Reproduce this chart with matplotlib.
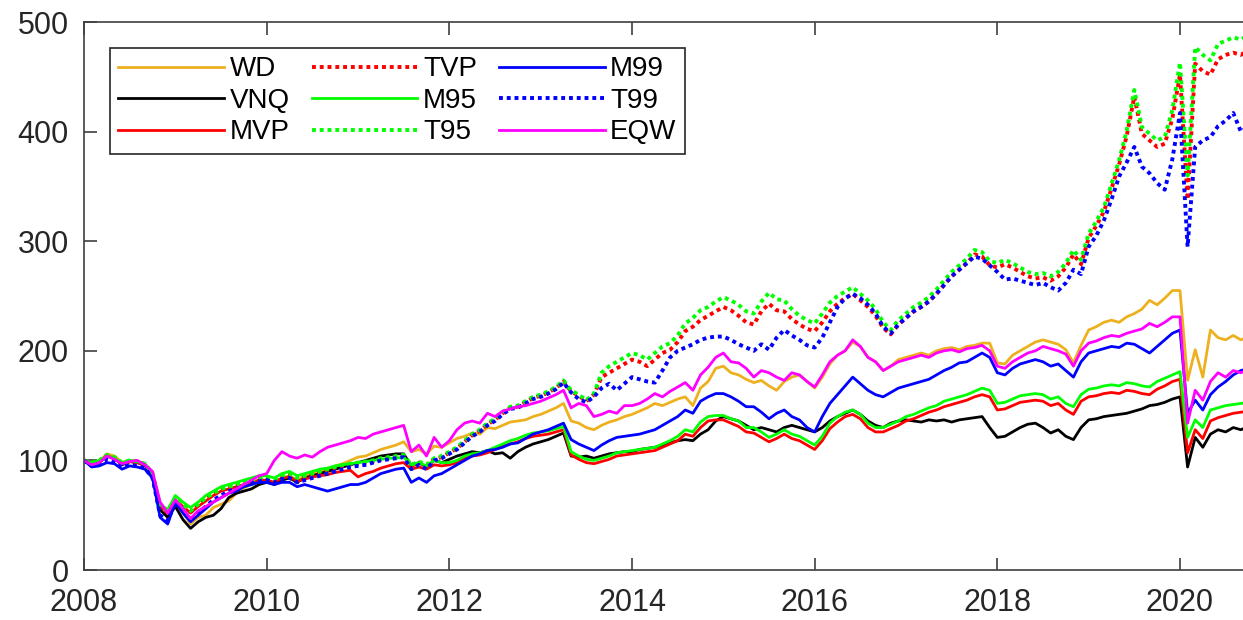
import matplotlib
matplotlib.use('Agg')
import matplotlib.pyplot as plt
import numpy as np

plt.rcParams['font.family'] = ['Liberation Sans', 'DejaVu Sans']

# monthly index values, Jan 2008 .. Oct 2020
labels = ['WD', 'VNQ', 'MVP', 'TVP', 'M95', 'T95', 'M99', 'T99', 'EQW']

WD = [100, 97, 99, 106, 104, 98, 100, 99, 97, 88, 58, 50,
      60, 52, 42, 48, 50, 57, 60, 63, 70, 75, 78, 82,
      80, 80, 84, 86, 82, 86, 88, 90, 92, 95, 97, 100,
      103, 104, 107, 110, 112, 114, 117, 108, 110, 106, 113, 112,
      116, 120, 122, 125, 124, 130, 129, 132, 135, 136, 137, 140,
      142, 145, 148, 152, 136, 134, 130, 128, 132, 135, 137, 140,
      142, 145, 148, 152, 150, 153, 156, 158, 150, 166, 172, 184,
      186, 180, 178, 174, 171, 173, 168, 164, 172, 176, 178, 172,
      166, 176, 188, 196, 200, 208, 204, 194, 190, 182, 186, 192,
      194, 196, 198, 196, 200, 202, 203, 201, 204, 205, 207, 207,
      189, 188, 196, 200, 204, 208, 210, 208, 206, 201, 189, 205,
      219, 222, 226, 228, 226, 231, 234, 238, 246, 242, 248, 255,
      255, 173, 201, 176, 219, 212, 210, 214, 210, 213]

VNQ = [100, 96, 98, 104, 102, 96, 99, 98, 96, 85, 55, 48,
       58, 46, 38, 44, 48, 50, 56, 66, 70, 72, 74, 78,
       80, 78, 82, 84, 80, 84, 86, 88, 90, 92, 94, 96,
       98, 100, 102, 104, 105, 106, 106, 95, 98, 94, 100, 98,
       101, 104, 106, 108, 107, 109, 106, 107, 102, 108, 112, 115,
       117, 119, 122, 125, 104, 103, 104, 102, 104, 106, 107, 108,
       108, 110, 111, 112, 114, 116, 118, 119, 118, 124, 128, 136,
       140, 138, 136, 132, 128, 130, 128, 126, 130, 132, 130, 128,
       126, 130, 136, 140, 143, 146, 142, 136, 132, 130, 134, 136,
       137, 136, 135, 137, 136, 137, 135, 137, 138, 139, 140, 130,
       121, 122, 126, 130, 133, 134, 130, 125, 128, 122, 119, 130,
       137, 138, 140, 141, 142, 143, 145, 147, 150, 151, 153, 156,
       158, 94, 121, 112, 124, 128, 126, 130, 128, 131]

MVP = [100, 97, 99, 104, 102, 97, 99, 98, 96, 86, 58, 52,
       64, 58, 52, 58, 63, 68, 72, 74, 76, 78, 80, 82,
       82, 80, 84, 85, 81, 83, 85, 86, 87, 89, 90, 91,
       85, 88, 90, 93, 95, 97, 98, 92, 94, 92, 96, 95,
       96, 98, 102, 104, 105, 107, 110, 113, 115, 117, 120, 122,
       123, 124, 126, 128, 105, 101, 98, 97, 99, 101, 104, 105,
       106, 107, 108, 109, 112, 115, 118, 124, 122, 130, 136, 137,
       137, 134, 131, 126, 125, 121, 117, 120, 124, 120, 118, 114,
       110, 118, 129, 135, 140, 142, 138, 130, 126, 126, 129, 132,
       136, 138, 141, 144, 146, 149, 151, 153, 155, 158, 160, 158,
       146, 147, 150, 153, 154, 155, 154, 150, 152, 146, 142, 154,
       158, 159, 161, 162, 161, 164, 163, 161, 160, 165, 168, 172,
       174, 107, 128, 120, 136, 139, 141, 143, 144, 145]

TVP = [100, 97, 99, 104, 102, 97, 99, 98, 96, 87, 57, 53,
       65, 59, 53, 59, 65, 69, 73, 75, 77, 79, 81, 83,
       84, 82, 85, 87, 83, 85, 87, 89, 91, 93, 95, 96,
       97, 98, 99, 101, 102, 103, 104, 95, 98, 95, 101, 103,
       107, 111, 117, 123, 127, 133, 137, 143, 148, 149, 153, 157,
       159, 162, 166, 172, 163, 159, 154, 160, 176, 180, 184, 188,
       192, 190, 186, 192, 198, 201, 208, 218, 222, 228, 232, 236,
       240, 237, 232, 226, 224, 236, 243, 237, 236, 229, 224, 220,
       218, 226, 236, 243, 248, 252, 246, 240, 232, 221, 215, 224,
       230, 236, 240, 245, 252, 260, 268, 274, 280, 288, 286, 278,
       276, 279, 276, 272, 268, 266, 267, 264, 268, 276, 288, 279,
       303, 314, 327, 348, 370, 396, 432, 398, 392, 386, 389, 412,
       452, 338, 462, 455, 452, 466, 470, 472, 470, 474]

M95 = [100, 98, 100, 104, 102, 98, 100, 99, 97, 88, 60, 55,
       68, 62, 57, 62, 68, 72, 76, 78, 80, 82, 84, 86,
       86, 84, 88, 90, 86, 88, 90, 92, 93, 95, 96, 97,
       98, 99, 100, 101, 102, 102, 103, 96, 98, 95, 100, 98,
       98, 100, 104, 106, 107, 109, 112, 115, 118, 120, 123, 125,
       126, 127, 129, 131, 108, 104, 101, 100, 102, 104, 107, 108,
       109, 110, 111, 112, 115, 118, 122, 128, 126, 135, 140, 141,
       141, 138, 136, 130, 130, 126, 121, 124, 128, 124, 122, 118,
       114, 122, 134, 140, 144, 146, 142, 134, 130, 130, 133, 136,
       140, 142, 145, 148, 150, 154, 156, 158, 160, 163, 166, 164,
       152, 153, 156, 159, 160, 161, 160, 156, 158, 152, 149, 160,
       165, 166, 168, 169, 168, 171, 170, 168, 167, 172, 175, 178,
       181, 121, 137, 130, 146, 148, 150, 151, 152, 153]

T95 = [100, 98, 100, 105, 103, 98, 100, 99, 97, 88, 58, 54,
       66, 60, 54, 60, 66, 70, 74, 76, 78, 80, 82, 84,
       85, 83, 86, 88, 84, 86, 88, 90, 92, 94, 96, 97,
       98, 99, 100, 102, 103, 104, 105, 96, 99, 96, 102, 104,
       108, 112, 118, 124, 128, 134, 138, 144, 149, 150, 154, 158,
       160, 163, 167, 173, 164, 160, 155, 161, 180, 186, 190, 194,
       198, 196, 192, 198, 204, 207, 214, 225, 230, 237, 240, 245,
       249, 246, 242, 236, 234, 245, 253, 247, 246, 238, 232, 228,
       225, 234, 244, 250, 254, 258, 252, 246, 238, 226, 219, 228,
       234, 240, 244, 249, 256, 264, 272, 278, 284, 292, 290, 282,
       280, 283, 280, 276, 272, 270, 271, 268, 272, 280, 292, 283,
       307, 318, 331, 352, 374, 401, 438, 404, 398, 392, 395, 420,
       463, 360, 477, 470, 465, 480, 483, 486, 484, 488]

M99 = [100, 94, 95, 98, 97, 92, 95, 94, 92, 84, 48, 42,
       62, 52, 44, 50, 56, 62, 66, 70, 72, 76, 78, 80,
       80, 78, 80, 80, 76, 78, 76, 74, 72, 74, 76, 78,
       78, 80, 84, 88, 90, 92, 93, 80, 84, 80, 86, 88,
       92, 96, 100, 104, 106, 109, 110, 112, 115, 116, 120, 124,
       126, 128, 131, 134, 119, 115, 112, 109, 114, 118, 121, 122,
       123, 124, 126, 128, 132, 136, 140, 146, 143, 154, 158, 161,
       161, 158, 154, 149, 149, 144, 138, 143, 146, 140, 137, 130,
       126, 140, 152, 160, 168, 176, 170, 164, 160, 158, 162, 166,
       168, 170, 172, 174, 178, 182, 185, 189, 190, 194, 198, 194,
       180, 178, 184, 188, 190, 192, 190, 186, 188, 182, 176, 190,
       198, 200, 202, 204, 203, 207, 206, 202, 198, 204, 210, 216,
       219, 143, 155, 146, 160, 167, 172, 178, 182, 184]

T99 = [100, 95, 97, 101, 99, 94, 96, 95, 93, 84, 50, 45,
       62, 54, 46, 52, 58, 64, 68, 72, 74, 77, 79, 81,
       82, 80, 83, 84, 80, 82, 84, 86, 88, 90, 92, 94,
       95, 96, 98, 100, 101, 102, 103, 92, 96, 92, 100, 102,
       106, 110, 116, 122, 126, 132, 136, 142, 147, 148, 152, 156,
       158, 161, 165, 171, 162, 156, 153, 158, 166, 170, 164, 170,
       176, 174, 172, 171, 182, 194, 200, 203, 206, 210, 212, 213,
       213, 210, 206, 203, 200, 206, 201, 212, 219, 214, 210, 205,
       203, 212, 226, 240, 248, 252, 248, 242, 234, 222, 216, 224,
       230, 236, 240, 245, 252, 260, 268, 274, 280, 286, 284, 278,
       272, 265, 266, 264, 262, 260, 262, 258, 255, 262, 274, 270,
       295, 305, 319, 338, 359, 372, 386, 368, 362, 353, 347, 375,
       417, 295, 386, 392, 395, 405, 410, 417, 400, 405]

EQW = [100, 96, 98, 104, 101, 97, 99, 100, 96, 90, 62, 52,
       64, 56, 47, 54, 58, 62, 66, 70, 74, 78, 82, 86,
       88, 100, 108, 104, 102, 105, 103, 108, 112, 114, 116, 118,
       121, 120, 124, 126, 128, 130, 132, 108, 114, 104, 121, 112,
       118, 128, 134, 136, 134, 143, 140, 145, 147, 149, 150, 152,
       154, 157, 160, 164, 148, 152, 150, 140, 142, 145, 143, 150,
       150, 152, 156, 161, 158, 163, 167, 171, 164, 178, 185, 194,
       198, 190, 189, 184, 176, 182, 180, 176, 173, 180, 178, 172,
       167, 178, 190, 196, 200, 210, 204, 194, 190, 182, 186, 190,
       192, 194, 196, 194, 198, 200, 201, 199, 202, 203, 205, 200,
       186, 184, 190, 194, 198, 200, 204, 202, 200, 197, 186, 200,
       207, 209, 212, 214, 213, 216, 218, 220, 225, 222, 226, 231,
       231, 134, 164, 155, 172, 180, 176, 182, 180, 183]

colors = ['#EDB120', 'k', '#FF0000', '#FF0000', '#00FF00', '#00FF00',
          '#0000FF', '#0000FF', '#FF00FF']
dotted = [False, False, False, True, False, True, False, True, False]


def main():
    series = [WD, VNQ, MVP, TVP, M95, T95, M99, T99, EQW]
    t = 2008 + np.arange(len(WD)) / 12

    fig = plt.figure(figsize=(12.43, 6.2), dpi=100)
    ax = fig.add_axes([0.0676, 0.0806, 0.9324, 0.8839])

    for name, y, c, dot in zip(labels, series, colors, dotted):
        if dot:
            ax.plot(t, y, color=c, lw=2.8, linestyle=(0, (1, 1)), label=name)
        else:
            ax.plot(t, y, color=c, lw=2.0, label=name)

    ax.set_xlim(2008, 2020.69)
    ax.set_ylim(0, 500)
    ax.set_xticks(range(2008, 2021, 2))
    ax.set_yticks(range(0, 501, 100))

    for s in ax.spines.values():
        s.set_color('#404040')
        s.set_linewidth(1.2)
    ax.spines['right'].set_visible(False)
    ax.tick_params(direction='in', length=9, width=1.2, colors='#404040',
                   labelcolor='#262626', labelsize=22, top=True, right=False)
    ax.tick_params(axis='y', pad=11)
    ax.tick_params(axis='x', pad=13)

    leg = ax.legend(loc='upper left', bbox_to_anchor=(0.0224, 0.9526),
                    ncol=3, fontsize=20, handlelength=3.8, handletextpad=0.2,
                    columnspacing=0.8, labelspacing=0.2, borderpad=0.3,
                    borderaxespad=0, fancybox=False, framealpha=1)
    leg.get_frame().set_edgecolor('#262626')
    leg.get_frame().set_linewidth(1.2)

    fig.savefig('out.png', dpi=100)


if __name__ == '__main__':
    main()
